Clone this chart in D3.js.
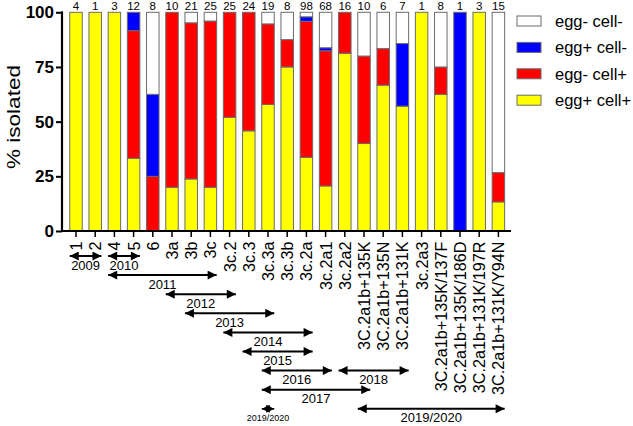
<!DOCTYPE html>
<html>
<head>
<meta charset="utf-8">
<script src="https://cdn.jsdelivr.net/npm/d3@7"></script>
<style>
  html, body { margin: 0; padding: 0; background: #fff; }
  svg { display: block; font-family: "Liberation Sans", Arial, Helvetica, sans-serif; }
</style>
</head>
<body>
<svg id="chart" width="633" height="426"></svg>
<script>
// ---------------- data ----------------
const categories = ["1","2","4","5","6","3a","3b","3c","3c.2","3c.3","3c.3a","3c.3b","3c.2a","3c.2a1","3c.2a2",
  "3C.2a1b+135K","3C.2a1b+135N","3C.2a1b+131K","3c.2a3","3C.2a1b+135K/137F","3C.2a1b+135K/186D",
  "3C.2a1b+131K/197R","3C.2a1b+131K/Y94N"];
const nIsolates     = [4,1,3,12,8,10,21,25,25,24,19,8,98,68,16,10,6,7,1,8,1,3,15];
const eggPosCellPos = [100,100,100,33.3,0,20,23.8,20,52,45.8,57.9,75,33.7,20.6,81.3,40,66.7,57.1,100,62.5,0,100,13.3];
const eggNegCellPos = [0,0,0,58.3,25,80,71.4,76,48,54.2,36.8,12.5,62.2,61.8,18.7,40,16.7,0,0,12.5,0,0,13.4];
const eggPosCellNeg = [0,0,0,8.4,37.5,0,0,0,0,0,0,0,2.05,1.4,0,0,0,28.6,0,0,100,0,0];
const eggNegCellNeg = [0,0,0,0,37.5,0,4.8,4,0,0,5.3,12.5,2.05,16.2,0,20,16.6,14.3,0,25,0,0,73.3];
const seriesKeys    = ["egg+ cell+","egg- cell+","egg+ cell-","egg- cell-"];
const seriesColors  = ["#ffff00","#ff0000","#0000ff","#ffffff"];
const yTicks        = [0,25,50,75,100];
// year spans: first and last category covered, and annotation row
const yearLabels = ["2009","2010","2011","2012","2013","2014","2015","2016","2018","2017","2019/2020","2019/2020"];
const yearFrom   = ["1","4","4","3a","3b","3c.2","3c.3","3c.3a","3c.2a2","3c.3a","3c.3a","3C.2a1b+135K"];
const yearTo     = ["2","5","3c","3c.2","3c.3a","3c.2a","3c.2a","3c.2a1","3C.2a1b+131K","3C.2a1b+135K","3c.3a","3C.2a1b+131K/Y94N"];
const yearRow    = [0,0,1,2,3,4,5,6,6,7,8,8];
const yearSmall  = [false,false,false,false,false,false,false,false,false,false,true,false];

// ---------------- build ----------------
const table = categories.map((c, i) => ({
  cat: c, n: nIsolates[i],
  "egg+ cell+": eggPosCellPos[i], "egg- cell+": eggNegCellPos[i],
  "egg+ cell-": eggPosCellNeg[i], "egg- cell-": eggNegCellNeg[i]
}));

const svg = d3.select("#chart");
const x0 = 62, x1 = 511, yTop = 12.3, yBot = 231;

const x = d3.scaleBand().domain(categories).range([66.4, 508]).paddingInner(0.35).paddingOuter(0.175);
const y = d3.scaleLinear().domain([0, 100]).range([yBot, yTop]);
const color = d3.scaleOrdinal().domain(seriesKeys).range(seriesColors);

const stacked = d3.stack().keys(seriesKeys)(table);

// bars
svg.append("g").selectAll("g").data(stacked).join("g")
  .attr("fill", d => color(d.key))
  .selectAll("rect").data(d => d).join("rect")
  .attr("x", d => x(d.data.cat))
  .attr("width", x.bandwidth())
  .attr("y", d => y(d[1]))
  .attr("height", d => Math.max(0, y(d[0]) - y(d[1])))
  .attr("stroke", "#6b6b6b").attr("stroke-width", 1);

// counts
svg.append("g").selectAll("text").data(table).join("text")
  .attr("x", d => x(d.cat) + x.bandwidth() / 2)
  .attr("y", 10)
  .attr("text-anchor", "middle")
  .attr("font-size", 11.5)
  .text(d => d.n);

// y axis
const yAxis = svg.append("g").attr("transform", `translate(${x0},0)`)
  .call(d3.axisLeft(y).tickValues(yTicks).tickSize(6).tickPadding(2));
yAxis.select(".domain").attr("stroke-width", 2.2).attr("d", `M0,${yBot}V${yTop - 1}`);
yAxis.selectAll(".tick line").attr("stroke-width", 2);
yAxis.selectAll(".tick text").attr("font-size", 17).attr("font-weight", "bold")
  .attr("font-family", "Liberation Sans, Arial, sans-serif").attr("fill", "#000");

// x axis
const xAxis = svg.append("g").attr("transform", `translate(0,${yBot})`)
  .call(d3.axisBottom(x).tickSize(6).tickSizeOuter(0));
xAxis.select(".domain").attr("stroke-width", 2.2).attr("d", `M${x0 - 1},0H${x1}`);
xAxis.selectAll(".tick line").attr("stroke-width", 1.5);
xAxis.selectAll(".tick text")
  .attr("font-size", 16.2).attr("font-family", "Liberation Sans, Arial, sans-serif").attr("fill", "#000")
  .attr("text-anchor", "end")
  .attr("dominant-baseline", "central")
  .attr("transform", "translate(0,10.5) rotate(-90)")
  .attr("x", 0).attr("y", 0).attr("dy", null);

// y label
svg.append("text")
  .attr("transform", `translate(13,117) rotate(-90)`)
  .attr("text-anchor", "middle")
  .attr("dominant-baseline", "central")
  .attr("font-size", 19)
  .attr("textLength", 104)
  .attr("lengthAdjust", "spacingAndGlyphs")
  .text("% isolated");

// legend
const legendOrder = seriesKeys.slice().reverse();
const lg = svg.append("g").selectAll("g").data(legendOrder).join("g")
  .attr("transform", (d, i) => `translate(517,${16 + i * 26.4})`);
lg.append("rect").attr("width", 24).attr("height", 10)
  .attr("fill", d => color(d)).attr("stroke", "#6b6b6b").attr("stroke-width", 1);
lg.append("text").attr("x", 38).attr("y", 5).attr("dominant-baseline", "central")
  .attr("font-size", 16.5).text(d => d);

// year arrows
const defs = svg.append("defs");
defs.append("marker").attr("id", "ah").attr("viewBox", "0 0 10 10")
  .attr("refX", 10).attr("refY", 5).attr("markerUnits", "userSpaceOnUse")
  .attr("markerWidth", 11).attr("markerHeight", 9).attr("orient", "auto-start-reverse")
  .append("path").attr("d", "M0,0L10,5L0,10Z").attr("fill", "#000");
defs.append("marker").attr("id", "ahs").attr("viewBox", "0 0 10 10")
  .attr("refX", 10).attr("refY", 5).attr("markerUnits", "userSpaceOnUse")
  .attr("markerWidth", 8).attr("markerHeight", 9).attr("orient", "auto-start-reverse")
  .append("path").attr("d", "M0,0L10,5L0,10Z").attr("fill", "#000");

const rowY = r => 256 + r * 19.1;
const years = yearLabels.map((l, i) => ({
  label: l, x1: x(yearFrom[i]), x2: x(yearTo[i]) + x.bandwidth(), yy: rowY(yearRow[i]), small: yearSmall[i]
}));
const yg = svg.append("g").selectAll("g").data(years).join("g");
yg.append("line")
  .attr("x1", d => d.x1).attr("x2", d => d.x2)
  .attr("y1", d => d.yy).attr("y2", d => d.yy)
  .attr("stroke", "#000").attr("stroke-width", d => d.small ? 1.5 : 2)
  .attr("marker-start", d => d.small ? "url(#ahs)" : "url(#ah)")
  .attr("marker-end", d => d.small ? "url(#ahs)" : "url(#ah)");
yg.append("text")
  .attr("x", d => (d.x1 + d.x2) / 2)
  .attr("y", d => d.yy + 9)
  .attr("text-anchor", "middle")
  .attr("dominant-baseline", "central")
  .attr("font-size", d => d.small ? 9 : 13)
  .text(d => d.label);
</script>
</body>
</html>
